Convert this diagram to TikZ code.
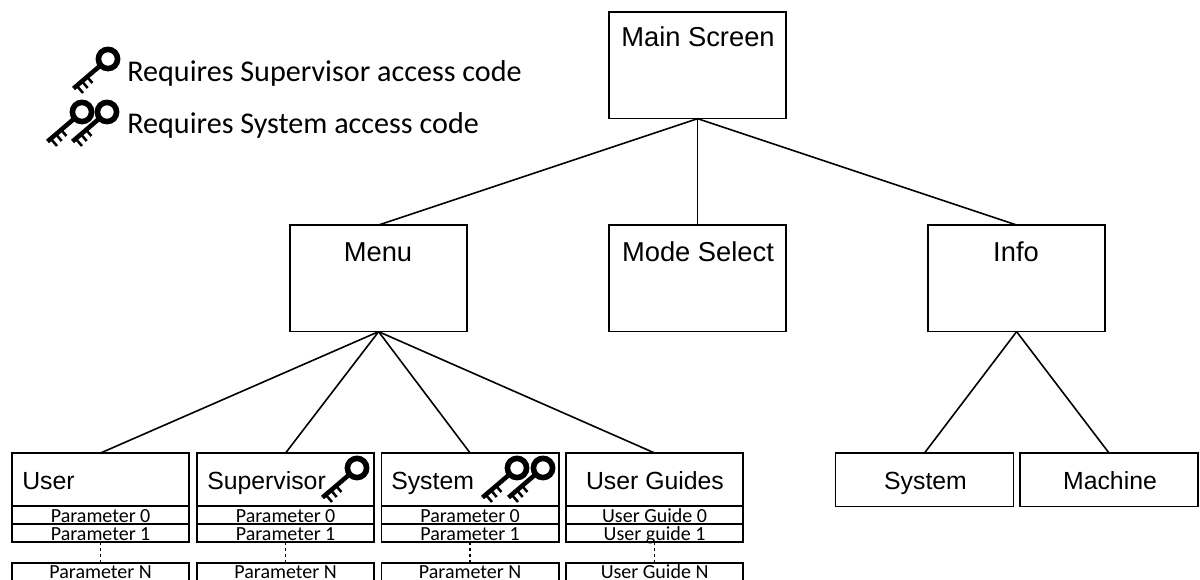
\documentclass[tikz,border=0pt]{standalone}
\usepackage{fontspec}
\setmainfont{Liberation Sans}
\newfontfamily\calfont{Carlito}
\tikzset{
  x=0.75pt,y=-0.75pt,
  box/.style={draw=black,line width=1.2pt,minimum width=132.9pt,inner sep=0pt,outer sep=0pt},
  big/.style={box,minimum height=80pt},
  head/.style={box,minimum height=40pt},
  subbox/.style={box,minimum width=133.5pt,minimum height=40pt},
  rowbox/.style={box,minimum height=13.5pt},
  rowtext/.style={font=\calfont\fontsize{15}{16}\selectfont,inner sep=0pt,anchor=base},
  title/.style={font=\fontsize{20.5}{22}\selectfont,inner sep=0pt,anchor=base},
  subtitle/.style={font=\fontsize{18.6}{20}\selectfont,inner sep=0pt,anchor=base},
  legendtext/.style={font=\calfont\fontsize{22.6}{24}\selectfont,inner sep=0pt,anchor=base west},
  link/.style={draw=black,line width=1.2pt},
  dots/.style={draw=black,line width=1.2pt,dash pattern=on 2.2pt off 2.2pt},
  keypic/.pic={
    \draw[line width=4.2pt,black] (0,0) circle[radius=9.6];
    \draw[line width=3.4pt,black] (-7,6) -- (-34.5,29.5);
    \foreach \d in {0,1,2}{
      \draw[line width=1.9pt,black] (-31+4.7*\d,27-5*\d) -- ++(6,7);
    }
  },
}
\begin{document}
\begin{tikzpicture}
\useasboundingbox (0,0) rectangle (1200,580);
\clip (0,0) rectangle (1200,580);
% top level
\node[big,anchor=north west] (main) at (609,12) {};
\node[big,anchor=north west] (menu) at (290,225) {};
\node[big,anchor=north west] (mode) at (609,225) {};
\node[big,anchor=north west] (info) at (928,225) {};
\node[title] at (698,47) {Main Screen};
\node[title] at (378,262) {Menu};
\node[title] at (698,262) {Mode Select};
\node[title] at (1016,262) {Info};
% columns
\foreach \nm/\xx in {user/12,sup/197,sys/381.5,guide/566}{
  \node[head,anchor=north west] (\nm) at (\xx,453) {};
  \node[rowbox,anchor=north west] (\nm-0) at (\xx,506) {};
  \node[rowbox,anchor=north west] (\nm-1) at (\xx,524) {};
  \node[box,minimum height=30pt,anchor=north west] (\nm-n) at (\xx,563) {};
  \draw[dots] (\nm-1.south) -- (\nm-n.north);
}
\node[subtitle,anchor=base west] at (22,490) {User};
\node[subtitle,anchor=base west] at (207,490) {Supervisor};
\node[subtitle,anchor=base west] at (391,490) {System};
\node[subtitle] at (655,490) {User Guides};
\foreach \nm in {user,sup,sys}{
  \node[rowtext] at ([yshift=-6pt]\nm-0.center) {Parameter 0};
  \node[rowtext] at ([yshift=-5.3pt]\nm-1.center) {Parameter 1};
  \node[rowtext] at ([yshift=-12pt]\nm-n.north) {Parameter N};
}
\node[rowtext] at ([yshift=-6pt]guide-0.center) {User Guide 0};
\node[rowtext] at ([yshift=-5.3pt]guide-1.center) {User guide 1};
\node[rowtext] at ([yshift=-12pt]guide-n.north) {User Guide N};
% info children
\node[subbox,anchor=north west] (isys) at (835.5,453) {};
\node[subbox,anchor=north west] (imac) at (1020,453) {};
\node[subtitle] at (925.5,490) {System};
\node[subtitle] at (1110,490) {Machine};
% connectors
\draw[link] (main.south) -- (menu.north);
\draw[link] (main.south) -- (mode.north);
\draw[link] (main.south) -- (info.north);
\draw[link] (menu.south) -- (user.north);
\draw[link] (menu.south) -- (sup.north);
\draw[link] (menu.south) -- (sys.north);
\draw[link] (menu.south) -- (guide.north);
\draw[link] (info.south) -- (isys.north);
\draw[link] (info.south) -- (imac.north);
% keys
\pic at (108,59) {keypic};
\pic at (82,112) {keypic};
\pic at (107,112) {keypic};
\pic at (357,468) {keypic};
\pic at (517,468) {keypic};
\pic at (543,468) {keypic};
% legend
\node[legendtext] at (127,82) {Requires Supervisor access code};
\node[legendtext] at (127,134) {Requires System access code};
\end{tikzpicture}
\end{document}
